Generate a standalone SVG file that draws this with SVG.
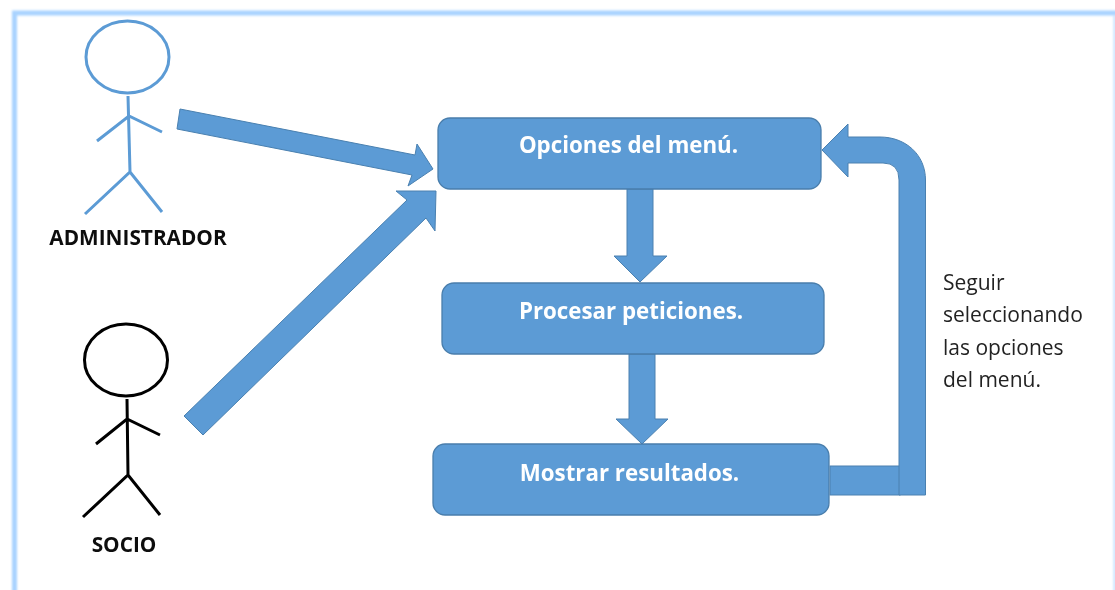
<svg xmlns="http://www.w3.org/2000/svg" width="1115" height="590" viewBox="0 0 1115 590">
<defs>
<filter id="soft" x="-2%" y="-2%" width="104%" height="104%"><feGaussianBlur stdDeviation="0.45"/></filter>
<filter id="edge" filterUnits="userSpaceOnUse" x="0" y="0" width="1115" height="590"><feGaussianBlur stdDeviation="1"/></filter>
</defs>
<style>
.arrow{fill:#5b9bd5;stroke:#4a80b0;stroke-width:1}
.box{fill:#5b9bd5;stroke:#4a7eac;stroke-width:1.300}
.title{font-family:"Open Sans","Noto Sans",sans-serif;font-weight:700;font-size:22.300px;fill:#fff;text-anchor:middle}
.actor{font-family:"Open Sans","Noto Sans",sans-serif;font-weight:700;font-size:20.800px;fill:#111;text-anchor:middle}
.note{font-family:"Open Sans","Noto Sans",sans-serif;font-size:21px;fill:#222}
.admin{fill:none;stroke:#5b9bd5;stroke-width:3}
.socio{fill:none;stroke:#000;stroke-width:3}
</style>
<rect width="1115" height="590" fill="#fff"/>
<g id="frame" filter="url(#edge)"><path d="M14.500 592V13H1117" fill="none" stroke="#a9d3ff" stroke-width="5"/><path d="M1114.500 16V592" stroke="#a9d3ff" stroke-width="1.500"/></g>
<g filter="url(#soft)">
<g id="actor-admin">
<ellipse class="admin" cx="127.500" cy="57" rx="41.500" ry="36"/>
<path class="admin" d="M128 96L130 172M97 141L129 116L162 132M85 214L130 172L162 212"/>
<text class="actor" x="138" y="245">ADMINISTRADOR</text>
</g>
<g id="actor-socio">
<ellipse class="socio" cx="126" cy="360" rx="41.500" ry="36"/>
<path class="socio" d="M127 399L128 475M96 444L127 419L160 435M83 517L128 475L160 515"/>
<text class="actor" x="124" y="552">SOCIO</text>
</g>
<g id="connectors">
<polygon class="arrow" points="180,109 415,155 417,144 433,169 408,186 412,175 177,129"/>
<polygon class="arrow" points="184,416 407,200 396,191 436,191 435,231 426,218 203,435"/>
<polygon class="arrow" points="627,189 653,189 653,256 667,256 640,282 614,256 627,256"/>
<polygon class="arrow" points="629,354 655,354 655,419 668,419 642,444 616,419 629,419"/>
<rect class="arrow" x="830" y="466" width="70" height="29"/>
<path class="arrow" d="M899 495V180Q899 163 883 163H848V177L822 150L848 124V137H880C906 137 925.500 155 925.500 180V495Z"/>
</g>
<g id="node-opciones"><rect class="box" x="438" y="118" width="383" height="71" rx="12"/><text class="title" x="628.500" y="153">Opciones del menú.</text></g>
<g id="node-procesar"><rect class="box" x="442" y="283" width="382" height="71" rx="12"/><text class="title" x="631" y="319">Procesar peticiones.</text></g>
<g id="node-mostrar"><rect class="box" x="433" y="444" width="396" height="71" rx="12"/><text class="title" x="629.500" y="481">Mostrar resultados.</text></g>
<g id="note">
<text class="note" x="943" y="290">Seguir</text>
<text class="note" x="943" y="322">seleccionando</text>
<text class="note" x="943" y="355">las opciones</text>
<text class="note" x="943" y="387">del menú.</text>
</g>
</g>
</svg>
